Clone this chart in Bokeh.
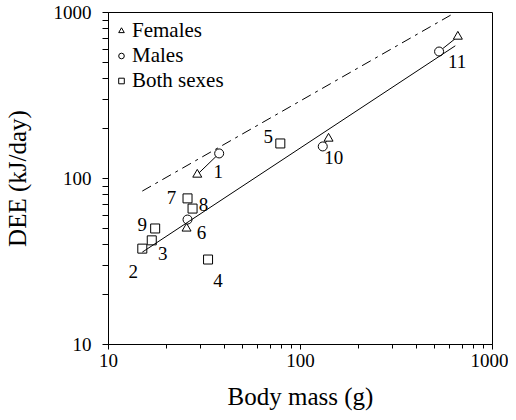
from bokeh.plotting import figure
from bokeh.models import FixedTicker, Legend, LegendItem, ColumnDataSource, Range1d
from bokeh.core.properties import value
from bokeh.embed import file_html
from bokeh.resources import INLINE

# ---- data ----
female_mass = [29.0, 25.5, 140.0, 660.0]
female_dee = [105.6, 50.0, 174.0, 716.0]
male_mass = [37.7, 25.8, 130.6, 527.0]
male_dee = [141.6, 56.6, 156.0, 582.0]
pair_ids = ["1", "6", "10", "11"]

both_mass = [15.0, 16.8, 33.0, 78.5, 25.8, 27.4, 17.5]
both_dee = [37.8, 42.4, 32.5, 162.6, 75.9, 65.9, 50.0]
both_ids = ["2", "3", "4", "5", "7", "8", "9"]

fit_mass = [15.0, 640.0]
fit_dee = [36.0, 630.0]
upper_mass = [15.0, 640.0]
upper_dee = [84.0, 1000.0]

x_ticks = [10, 100, 1000]
y_ticks = [10, 100, 1000]
tick_labels = ["10", "100", "1000"]

# label anchors: which point each number belongs to
label_anchor = {
    "1": ("f", 0), "6": ("f", 1), "10": ("m", 2), "11": ("m", 3),
    "2": ("b", 0), "3": ("b", 1), "4": ("b", 2), "5": ("b", 3),
    "7": ("b", 4), "8": ("b", 5), "9": ("b", 6),
}
# screen offsets of the number labels (style only)
label_offset = {
    "1": (21, -3), "2": (-9, 23), "3": (11, 13), "4": (10, 21), "5": (-12, -7),
    "6": (15, 4), "7": (-16, -1), "8": (11, -4), "9": (-13, -4),
    "10": (11, 11), "11": (18, 10),
}

SERIF = "Liberation Serif"
SERIF_Q = "'Liberation Serif', 'Times New Roman', serif"

p = figure(width=508, height=412, x_axis_type="log", y_axis_type="log",
           x_range=Range1d(10, 1000), y_range=Range1d(10, 1000),
           output_backend="svg", toolbar_location=None,
           min_border_left=103, min_border_right=16, min_border_top=12,
           min_border_bottom=68)
p.xgrid.visible = False
p.ygrid.visible = False
p.outline_line_color = "black"
p.outline_line_alpha = 1.0
p.background_fill_color = "white"
p.border_fill_color = "white"

minor = [m * d for d in (10, 100) for m in range(2, 10)]
p.xaxis.ticker = FixedTicker(ticks=x_ticks, minor_ticks=minor)
p.yaxis.ticker = FixedTicker(ticks=y_ticks, minor_ticks=minor)
p.xaxis.major_label_overrides = {t: s for t, s in zip(x_ticks, tick_labels)}
p.yaxis.major_label_overrides = {t: s for t, s in zip(y_ticks, tick_labels)}

for ax in (p.xaxis[0], p.yaxis[0]):
    ax.axis_line_color = "black"
    ax.major_tick_line_color = "black"
    ax.minor_tick_line_color = "black"
    ax.major_tick_in = 0
    ax.minor_tick_in = 0
    ax.major_label_text_font = SERIF
    ax.major_label_text_font_size = "19px"
    ax.major_label_text_color = "black"
    ax.axis_label_text_font = SERIF
    ax.axis_label_text_font_size = "25px"
    ax.axis_label_text_font_style = "normal"
    ax.axis_label_text_color = "black"

p.xaxis.major_tick_out = 5
p.xaxis.minor_tick_out = 4
p.yaxis.major_tick_out = 6
p.yaxis.minor_tick_out = 6
p.xaxis.major_label_standoff = 4
p.yaxis.major_label_standoff = 11
p.xaxis.axis_label = "Body mass (g)"
p.yaxis.axis_label = "DEE (kJ/day)"
p.xaxis.axis_label_standoff = 13
p.yaxis.axis_label_standoff = 20

# pair connectors
p.segment(x0=female_mass, y0=female_dee, x1=male_mass, y1=male_dee,
          line_color="black", line_width=1)

rf = p.scatter(female_mass, female_dee, marker="triangle", size=9,
               fill_color="white", line_color="black", line_width=1)
rm = p.scatter(male_mass, male_dee, marker="circle", size=9,
               fill_color="white", line_color="black", line_width=1)
rb = p.scatter(both_mass, both_dee, marker="square", size=9,
               fill_color="white", line_color="black", line_width=1)

# fitted lines
p.line(fit_mass, fit_dee, line_color="black", line_width=1)
p.line(upper_mass, upper_dee, line_color="black", line_width=1,
       line_dash="10 5 3 5")

# number labels
series = {"f": (female_mass, female_dee), "m": (male_mass, male_dee),
          "b": (both_mass, both_dee)}
lx, ly, lt, dx, dy = [], [], [], [], []
for name, (s, i) in label_anchor.items():
    xs, ys = series[s]
    lx.append(xs[i]); ly.append(ys[i]); lt.append(name)
    dx.append(label_offset[name][0]); dy.append(label_offset[name][1])
src = ColumnDataSource(dict(x=lx, y=ly, t=lt, dx=dx, dy=dy))
p.text(x="x", y="y", text="t", x_offset="dx", y_offset="dy", source=src,
       text_align="center", text_baseline="middle", text_color="black",
       text_font=value(SERIF_Q), text_font_size="19px")

legend = Legend(items=[LegendItem(label="Females", renderers=[rf]),
                       LegendItem(label="Males", renderers=[rm]),
                       LegendItem(label="Both sexes", renderers=[rb])],
                location="top_left", border_line_color=None,
                background_fill_alpha=0, margin=6, padding=2, spacing=0,
                label_height=25, glyph_height=25, glyph_width=14,
                label_standoff=4, label_text_font=SERIF_Q,
                label_text_font_size="21px", label_text_color="black")
p.add_layout(legend)

open("out.html", "w").write(file_html(p, INLINE))
